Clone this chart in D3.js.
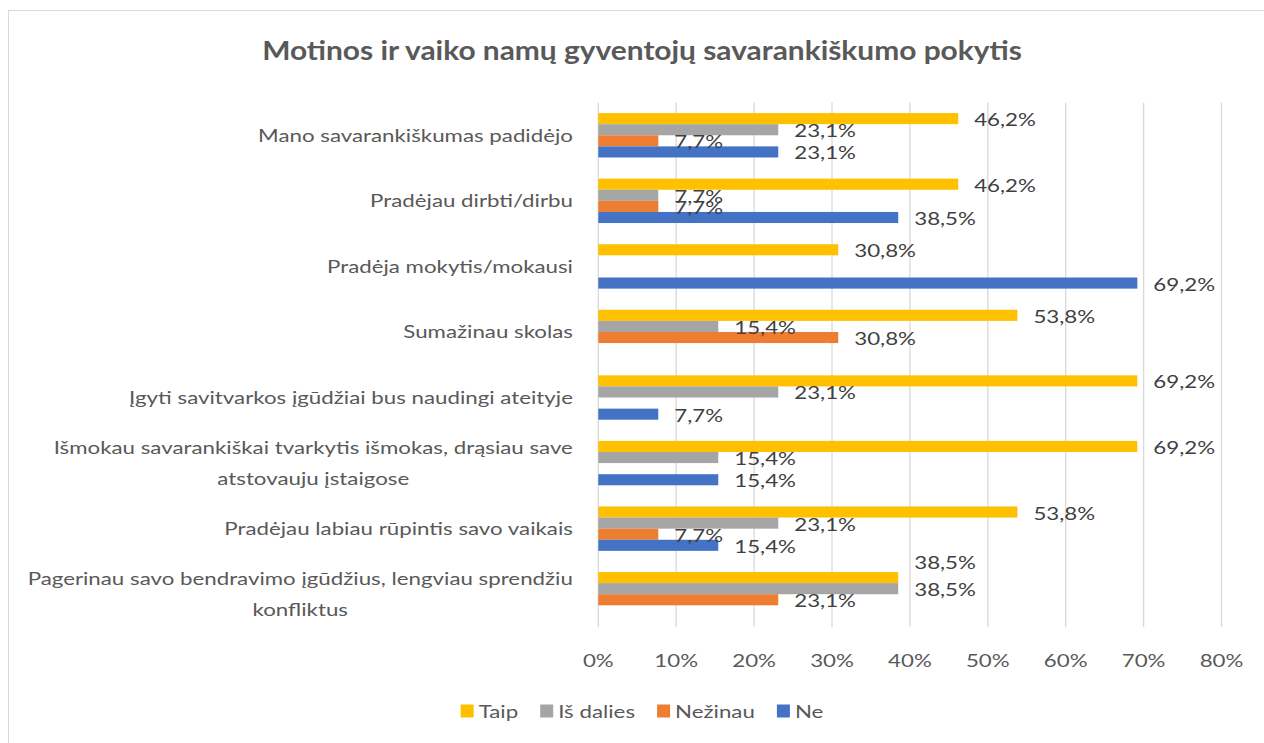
<!DOCTYPE html>
<html><head><meta charset="utf-8">
<script src="https://cdn.jsdelivr.net/npm/d3@7"></script>
<style>html,body{margin:0;padding:0;background:#fff;overflow:hidden}</style>
</head><body><svg id="c" width="1264" height="743"></svg>
<script>
// ---------- data ----------
const chartTitle = "Motinos ir vaiko namų gyventojų savarankiškumo pokytis";
const categories = [
  "Mano savarankiškumas padidėjo",
  "Pradėjau dirbti/dirbu",
  "Pradėja mokytis/mokausi",
  "Sumažinau skolas",
  "Įgyti savitvarkos įgūdžiai bus naudingi ateityje",
  "Išmokau savarankiškai tvarkytis išmokas, drąsiau save atstovauju įstaigose",
  "Pradėjau labiau rūpintis savo vaikais",
  "Pagerinau savo bendravimo įgūdžius, lengviau sprendžiu konfliktus"
];
const seriesNames = ["Taip", "Iš dalies", "Nežinau", "Ne"];
const taip     = [46.2, 46.2, 30.8, 53.8, 69.2, 69.2, 53.8, 38.5];
const isDalies = [23.1, 7.7, null, 15.4, 23.1, 15.4, 23.1, 38.5];
const nezinau  = [7.7, 7.7, null, 30.8, null, null, 7.7, 23.1];
const ne       = [23.1, 38.5, 69.2, null, 7.7, 15.4, 15.4, null];
const xTicks   = [0, 10, 20, 30, 40, 50, 60, 70, 80];

// ---------- styles / layout ----------
const seriesColors = ["#FFC000", "#A5A5A5", "#ED7D31", "#4472C4"];
const FONT = "Lato, 'Open Sans', sans-serif";
const svg = d3.select("#c");
const W = 1264, H = 743;
const plot = {left: 598.3, right: 1221.5, top: 102.5, bottom: 627};

svg.append("rect").attr("width", W).attr("height", H).attr("fill", "#fff");
svg.append("rect").attr("x", 8.5).attr("y", 10.5).attr("width", W + 10).attr("height", H + 10)
  .attr("fill", "none").attr("stroke", "#d9d9d9").attr("stroke-width", 1);

// measure helper
const meas = svg.append("g").attr("opacity", 0);
function textWidth(str, size, weight) {
  const t = meas.append("text").attr("font-family", FONT).attr("font-size", size)
    .attr("font-weight", weight || "normal").text(str);
  const w = t.node().getComputedTextLength();
  t.remove();
  return w;
}
const FS = 18;
const S = 315 / textWidth(categories[0], FS);           // horizontal stretch of the reference
const ST = 760 / textWidth(chartTitle, 26, "bold");

function stretchedText(parent, x, y, str, opts) {
  const o = Object.assign({size: FS, fill: "#595959", anchor: "start", weight: "normal", s: S}, opts);
  return parent.append("text")
    .attr("transform", `translate(${x},${y}) scale(${o.s},1)`)
    .attr("font-family", FONT).attr("font-size", o.size).attr("font-weight", o.weight)
    .attr("fill", o.fill).attr("text-anchor", o.anchor).text(str);
}

// title
stretchedText(svg, 642, 60, chartTitle, {size: 26, weight: "bold", anchor: "middle", s: ST});

// scales
const x = d3.scaleLinear().domain([0, 80]).range([plot.left, plot.right]);
const y0 = d3.scaleBand().domain(categories).range([plot.top, plot.bottom])
  .paddingInner(0.323).paddingOuter(0.1615);
const y1 = d3.scaleBand().domain(seriesNames).range([0, y0.bandwidth()]);
const color = d3.scaleOrdinal().domain(seriesNames).range(seriesColors);

// gridlines
svg.append("g").selectAll("line").data(xTicks).join("line")
  .attr("x1", d => x(d)).attr("x2", d => x(d))
  .attr("y1", plot.top).attr("y2", plot.bottom)
  .attr("stroke", "#d9d9d9").attr("stroke-width", 1.3);

// x tick labels
const xt = svg.append("g");
xTicks.forEach(d => stretchedText(xt, x(d), 667, d + "%", {anchor: "middle"}));

// bars
const seriesValues = [taip, isDalies, nezinau, ne];
const rows = [];
categories.forEach((c, i) => seriesNames.forEach((s, j) => {
  if (seriesValues[j][i] != null) rows.push({cat: c, ser: s, v: seriesValues[j][i], ci: i, sj: j});
}));
svg.append("g").selectAll("rect").data(rows).join("rect")
  .attr("x", x(0)).attr("y", d => y0(d.cat) + y1(d.ser))
  .attr("width", d => x(d.v) - x(0)).attr("height", y1.bandwidth())
  .attr("fill", d => color(d.ser));

// data labels
const labelNudge = {"7|Taip": -16};
const fmt = v => v.toFixed(1).replace(".", ",") + "%";
const dl = svg.append("g");
rows.forEach(d => {
  const cy = y0(d.cat) + y1(d.ser) + y1.bandwidth() / 2 + 1 + (labelNudge[d.ci + "|" + d.ser] || 0);
  stretchedText(dl, x(d.v) + 16, cy + 6.5, fmt(d.v), {fill: "#404040"});
});

// category labels (wrapped, centered block, right aligned)
const labelRight = 573, maxW = 555, lineH = 31;
const cl = svg.append("g");
categories.forEach(c => {
  const words = c.split(" ");
  const lines = [];
  let cur = "";
  words.forEach(w => {
    const test = cur ? cur + " " + w : w;
    if (textWidth(test, FS) * S > maxW && cur) { lines.push(cur); cur = w; } else cur = test;
  });
  lines.push(cur);
  const blockW = d3.max(lines, l => textWidth(l, FS) * S);
  const cx = labelRight - blockW / 2;
  const cy = y0(c) + y0.bandwidth() / 2;
  lines.forEach((l, k) => {
    const ly = cy + (k - (lines.length - 1) / 2) * lineH + 6.5;
    stretchedText(cl, cx, ly, l, {anchor: "middle"});
  });
});

// legend
const lg = svg.append("g");
const sq = 13, gapSq = 5, gapItem = 22;
const itemW = seriesNames.map(s => sq + gapSq + textWidth(s, FS) * S);
const totalW = d3.sum(itemW) + gapItem * (seriesNames.length - 1);
let lx = 642 - totalW / 2;
seriesNames.forEach((s, i) => {
  lg.append("rect").attr("x", lx).attr("y", 704.5).attr("width", sq).attr("height", sq).attr("fill", color(s));
  stretchedText(lg, lx + sq + gapSq, 717.5, s);
  lx += itemW[i] + gapItem;
});
</script></body></html>
